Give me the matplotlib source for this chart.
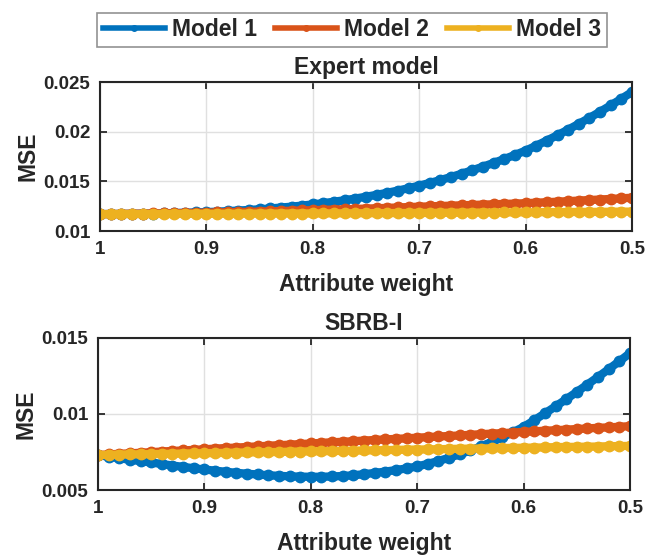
import numpy as np
import matplotlib
matplotlib.use('Agg')
import matplotlib.pyplot as plt
from matplotlib.ticker import FuncFormatter

plt.rcParams['font.family'] = ['Liberation Sans', 'DejaVu Sans']
plt.rcParams['font.weight'] = 'bold'

# attribute weight, 1 -> 0.5 in steps of 0.01
w = [round(1 - 0.01 * i, 2) for i in range(51)]

# Expert model
exp_m1 = [0.01170, 0.01171, 0.01172, 0.01173, 0.01174, 0.01176, 0.01178, 0.01181, 0.01184, 0.01187,
          0.01190, 0.01195, 0.01200, 0.01206, 0.01212, 0.01219, 0.01227, 0.01236, 0.01245, 0.01256,
          0.01268, 0.01281, 0.01295, 0.01310, 0.01327, 0.01345, 0.01364, 0.01385, 0.01407, 0.01431,
          0.01457, 0.01484, 0.01513, 0.01544, 0.01577, 0.01612, 0.01648, 0.01686, 0.01725, 0.01766,
          0.01809, 0.01859, 0.01911, 0.01965, 0.02021, 0.02079, 0.02139, 0.02201, 0.02265, 0.02331,
          0.02399]
exp_m2 = [0.01170, 0.01171, 0.01172, 0.01174, 0.01175, 0.01177, 0.01178, 0.01180, 0.01181, 0.01183,
          0.01185, 0.01187, 0.01189, 0.01191, 0.01193, 0.01196, 0.01198, 0.01201, 0.01204, 0.01207,
          0.01210, 0.01213, 0.01216, 0.01219, 0.01222, 0.01226, 0.01229, 0.01233, 0.01237, 0.01241,
          0.01245, 0.01248, 0.01252, 0.01255, 0.01259, 0.01262, 0.01266, 0.01269, 0.01273, 0.01276,
          0.01280, 0.01285, 0.01290, 0.01295, 0.01301, 0.01306, 0.01312, 0.01317, 0.01323, 0.01329,
          0.01335]
exp_m3 = [0.01170, 0.01170, 0.01171, 0.01171, 0.01171, 0.01172, 0.01172, 0.01172, 0.01173, 0.01173,
          0.01173, 0.01174, 0.01174, 0.01174, 0.01175, 0.01175, 0.01175, 0.01176, 0.01176, 0.01176,
          0.01177, 0.01177, 0.01178, 0.01178, 0.01179, 0.01179, 0.01180, 0.01180, 0.01181, 0.01181,
          0.01182, 0.01182, 0.01183, 0.01184, 0.01184, 0.01185, 0.01186, 0.01186, 0.01187, 0.01188,
          0.01188, 0.01189, 0.01190, 0.01190, 0.01191, 0.01192, 0.01192, 0.01193, 0.01194, 0.01195,
          0.01195]

# SBRB-I
sb_m1 = [0.00730, 0.00719, 0.00709, 0.00699, 0.00690, 0.00681, 0.00671, 0.00661, 0.00652, 0.00643,
         0.00635, 0.00627, 0.00620, 0.00613, 0.00607, 0.00602, 0.00597, 0.00593, 0.00590, 0.00588,
         0.00587, 0.00587, 0.00589, 0.00592, 0.00597, 0.00604, 0.00612, 0.00621, 0.00631, 0.00642,
         0.00655, 0.00672, 0.00691, 0.00712, 0.00735, 0.00760, 0.00787, 0.00816, 0.00847, 0.00880,
         0.00915, 0.00959, 0.01004, 0.01050, 0.01097, 0.01145, 0.01194, 0.01244, 0.01295, 0.01347,
         0.01400]
sb_m2 = [0.00730, 0.00734, 0.00738, 0.00741, 0.00745, 0.00749, 0.00753, 0.00757, 0.00760, 0.00764,
         0.00768, 0.00772, 0.00776, 0.00779, 0.00783, 0.00787, 0.00791, 0.00795, 0.00798, 0.00802,
         0.00806, 0.00810, 0.00814, 0.00817, 0.00821, 0.00825, 0.00829, 0.00833, 0.00836, 0.00840,
         0.00844, 0.00848, 0.00852, 0.00855, 0.00859, 0.00863, 0.00867, 0.00871, 0.00874, 0.00878,
         0.00882, 0.00886, 0.00890, 0.00893, 0.00897, 0.00901, 0.00905, 0.00909, 0.00912, 0.00916,
         0.00920]
sb_m3 = [0.00730, 0.00731, 0.00733, 0.00734, 0.00735, 0.00736, 0.00737, 0.00738, 0.00740, 0.00741,
         0.00742, 0.00743, 0.00744, 0.00746, 0.00747, 0.00748, 0.00749, 0.00750, 0.00752, 0.00753,
         0.00754, 0.00755, 0.00756, 0.00758, 0.00759, 0.00760, 0.00761, 0.00762, 0.00764, 0.00765,
         0.00766, 0.00767, 0.00768, 0.00770, 0.00771, 0.00772, 0.00773, 0.00774, 0.00776, 0.00777,
         0.00778, 0.00779, 0.00780, 0.00782, 0.00783, 0.00784, 0.00785, 0.00786, 0.00788, 0.00789,
         0.00790]

names = ['Model 1', 'Model 2', 'Model 3']
colors = ['#0072BD', '#D95319', '#EDB120']
xticks = [1, 0.9, 0.8, 0.7, 0.6, 0.5]
txt = '#262626'

fig = plt.figure(figsize=(6.46, 5.56), dpi=100)
ax1 = fig.add_axes([0.1548, 0.5845, 0.8235, 0.268])
ax2 = fig.add_axes([0.1517, 0.1187, 0.8235, 0.2734])

g = FuncFormatter(lambda v, p: '%g' % v)


def style(ax, title, yt, ylim):
    ax.set_xlim(1, 0.5)
    ax.set_ylim(*ylim)
    ax.set_xticks(xticks)
    ax.set_yticks(yt)
    ax.xaxis.set_major_formatter(g)
    ax.yaxis.set_major_formatter(g)
    ax.grid(True, color='#e0e0e0', linewidth=1)
    ax.set_axisbelow(True)
    ax.tick_params(direction='in', length=5, width=1.3, labelsize=13.5, colors=txt,
                   top=True, right=True, pad=7)
    for s in ax.spines.values():
        s.set_linewidth(1.5)
        s.set_color(txt)
    ax.set_title(title, fontsize=16.5, fontweight='bold', color=txt, pad=6)
    ax.set_xlabel('Attribute weight', fontsize=16.5, fontweight='bold', color=txt, labelpad=11)
    ax.set_ylabel('MSE', fontsize=16.5, fontweight='bold', color=txt, labelpad=3)


for ys, c, n in zip([exp_m1, exp_m2, exp_m3], colors, names):
    ax1.plot(w, ys, color=c, lw=6, marker='o', ms=7.5, mec=c, label=n)
for ys, c in zip([sb_m1, sb_m2, sb_m3], colors):
    ax2.plot(w, ys, color=c, lw=6, marker='o', ms=7.5, mec=c)

style(ax1, 'Expert model', [0.01, 0.015, 0.02, 0.025], (0.01, 0.025))
style(ax2, 'SBRB-I', [0.005, 0.01, 0.015], (0.005, 0.015))

handles = [plt.Line2D([], [], color=c, lw=4, marker='o', ms=4) for c in colors]
leg = fig.legend(handles, names, loc='center', bbox_to_anchor=(352 / 646, 1 - 30 / 556),
                 ncol=3, fontsize=16.5, frameon=True, fancybox=False, edgecolor='#777777',
                 handlelength=2.7, columnspacing=0.8, handletextpad=0.3, borderpad=0.25,
                 borderaxespad=0)
leg.get_frame().set_linewidth(1.2)
for t in leg.get_texts():
    t.set_fontweight('bold')
    t.set_color(txt)

fig.savefig('out.png', dpi=100)
